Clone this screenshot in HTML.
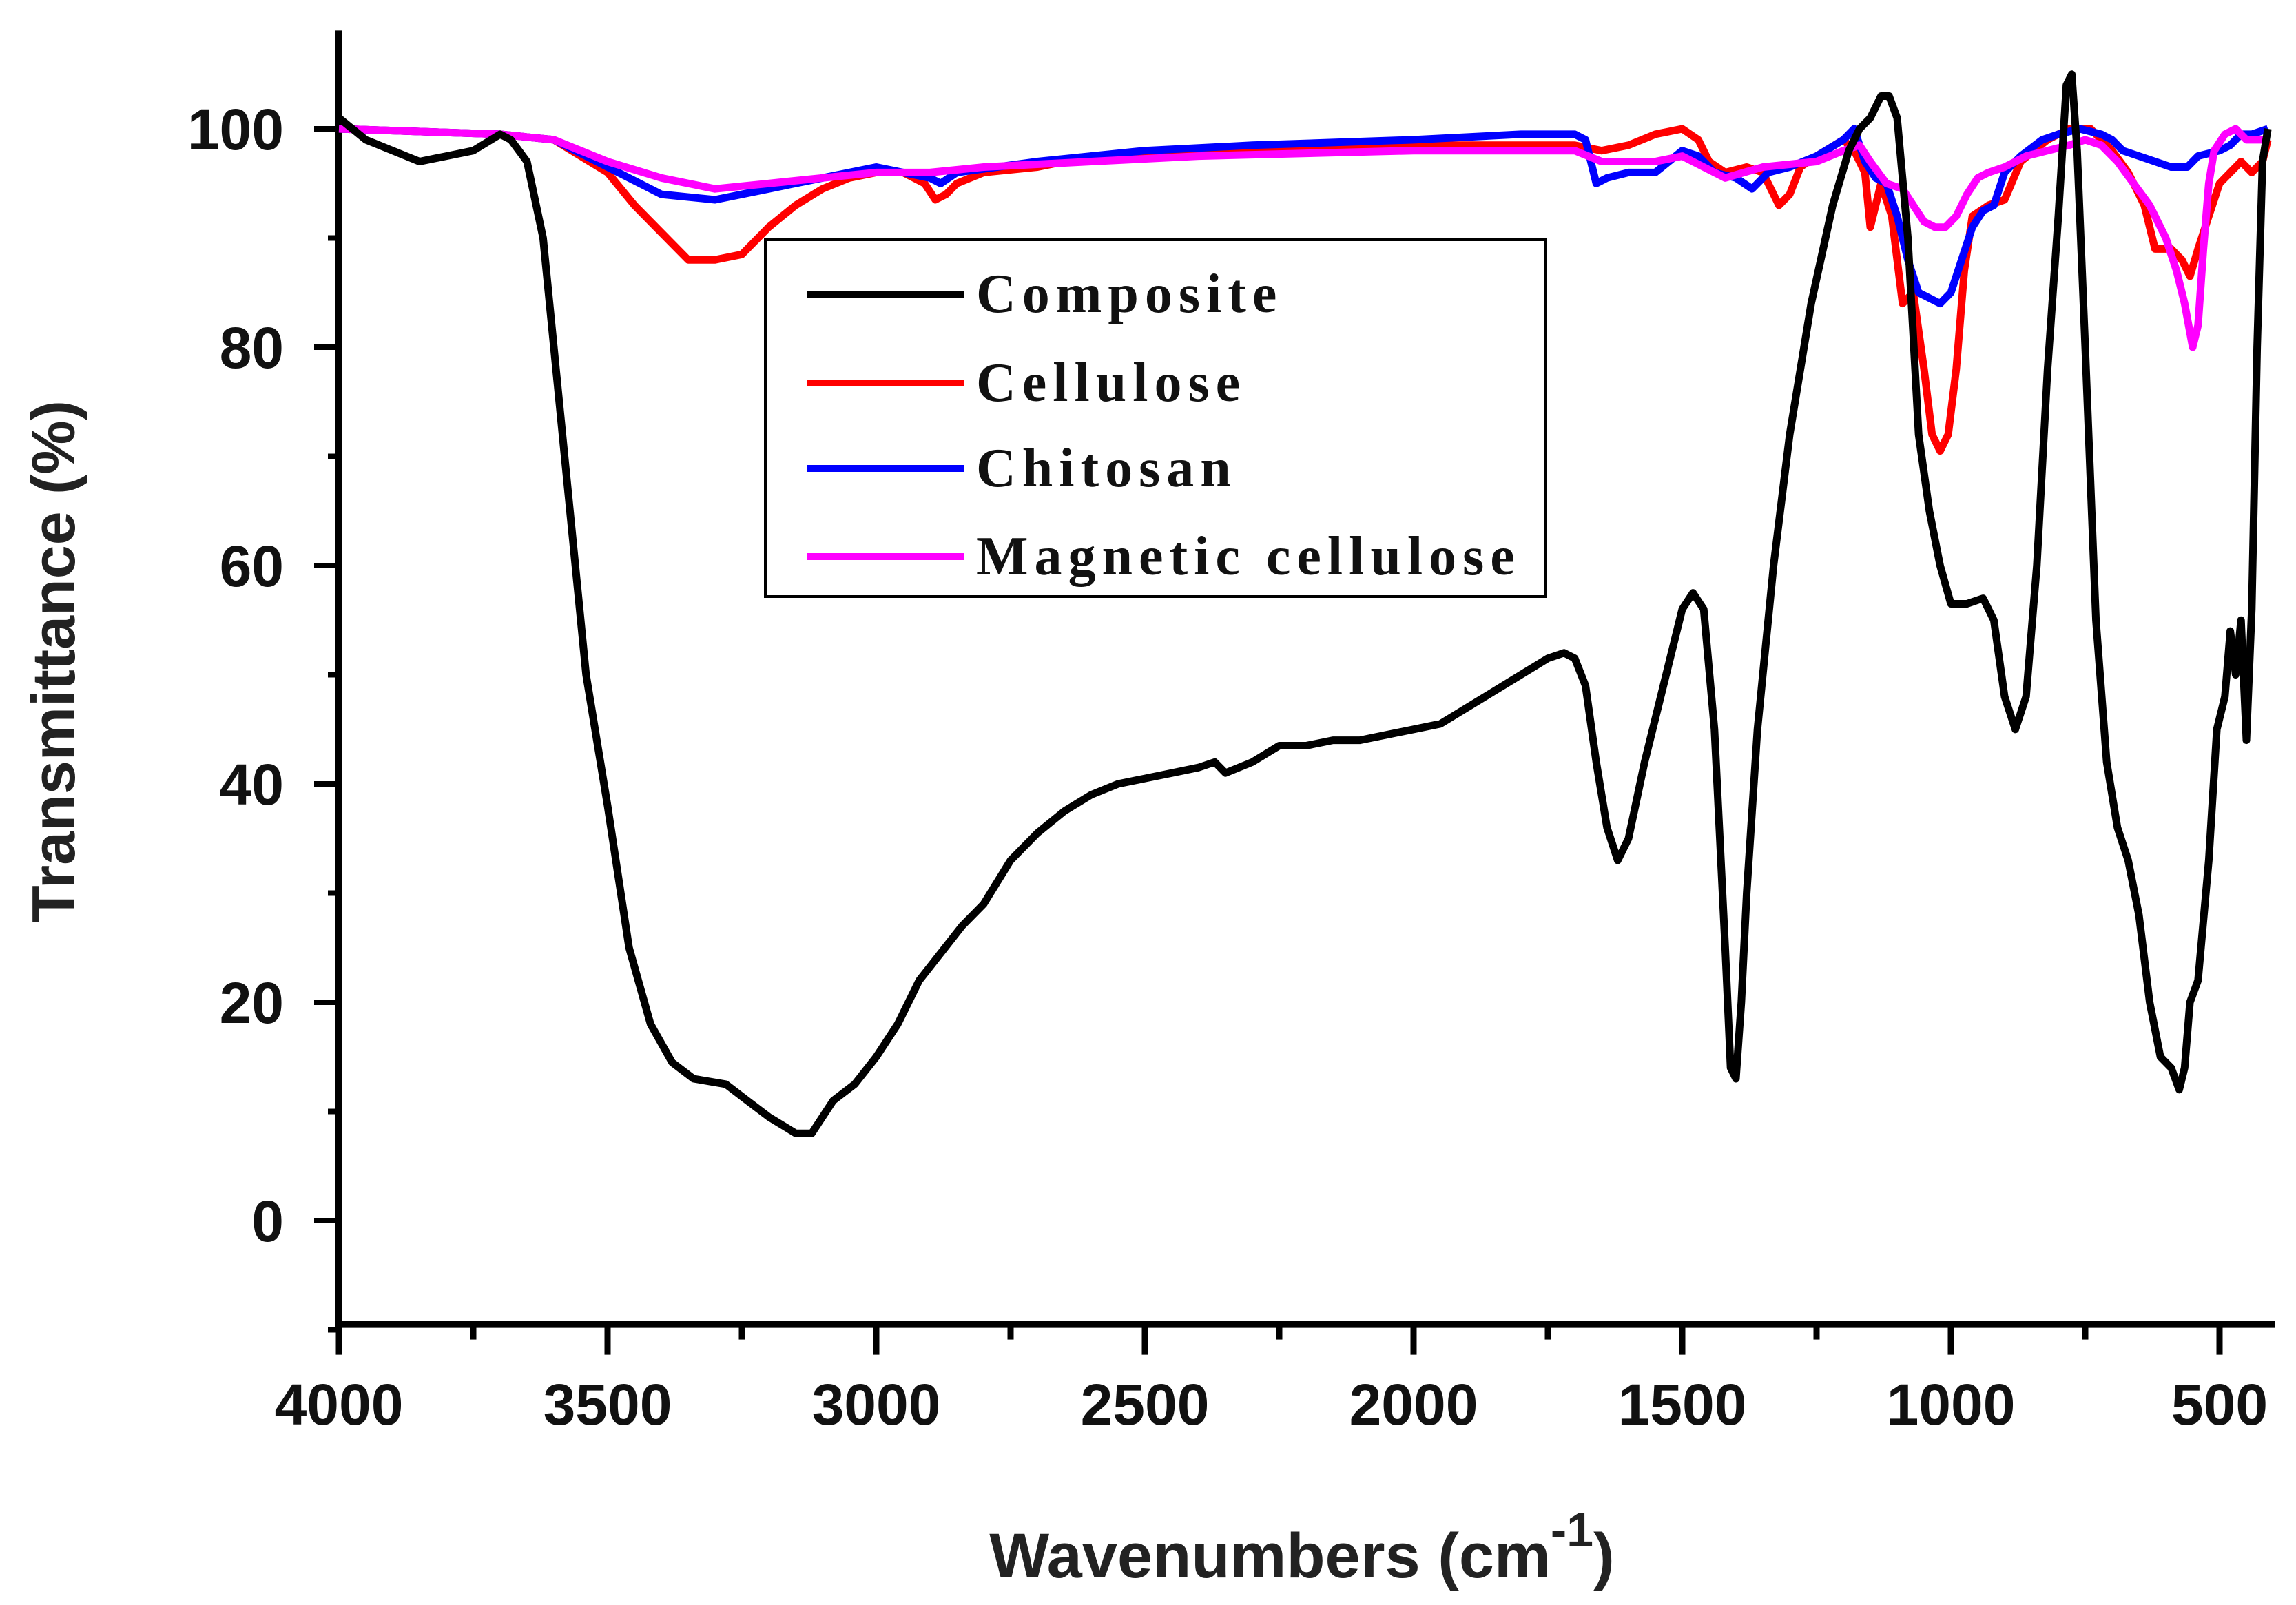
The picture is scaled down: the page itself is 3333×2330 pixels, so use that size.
<!DOCTYPE html>
<html><head><meta charset="utf-8">
<style>
html,body{margin:0;padding:0;background:#fff;}
svg{display:block;}
text{font-family:"Liberation Sans",sans-serif;}
</style></head>
<body>
<svg id="chart" width="3333" height="2330" viewBox="0 0 3333 2330" xmlns="http://www.w3.org/2000/svg">
<g id="axes"></g>
<g id="series"></g>
<g id="legend">
 <rect x="1111" y="348" width="1133" height="518" fill="#fff" stroke="#000" stroke-width="4"/>
</g>
<text x="1890" y="2290" font-size="92" font-weight="bold" text-anchor="middle" fill="#222">Wavenumbers (cm<tspan dy="-45" font-size="70">-1</tspan><tspan dy="45">)</tspan></text>
<text transform="translate(108,960) rotate(-90)" font-size="88" font-weight="bold" text-anchor="middle" fill="#222">Transmittance (%)</text>
</svg>
<script>
const xTicks = [4000,3500,3000,2500,2000,1500,1000,500];
const yTicks = [0,20,40,60,80,100];
const seriesNames = ["Composite","Cellulose","Chitosan","Magnetic cellulose"];
const seriesColors = ["#000000","#ff0000","#0000ff","#ff00ff"];
const compositeW = [4000,3950,3900,3850,3800,3750,3700,3680,3650,3620,3600,3570,3540,3500,3460,3420,3380,3340,3280,3240,3200,3150,3120,3080,3040,3000,2960,2920,2880,2840,2800,2750,2700,2650,2600,2550,2500,2450,2400,2370,2350,2300,2250,2200,2150,2100,2050,2000,1950,1900,1850,1800,1750,1720,1700,1680,1660,1640,1620,1600,1570,1530,1500,1480,1460,1440,1420,1410,1400,1390,1380,1360,1330,1300,1260,1220,1190,1170,1150,1130,1115,1100,1080,1060,1040,1020,1000,970,940,920,900,880,860,840,820,800,785,775,765,750,730,710,690,670,650,630,610,590,575,565,555,540,520,505,490,480,470,460,450,440,430,420,410];
const compositeT = [101,99,98,97,97.5,98,99.5,99,97,90,80,65,50,38,25,18,14.5,13,12.5,11,9.5,8,8,11,12.5,15,18,22,24.5,27,29,33,35.5,37.5,39,40,40.5,41,41.5,42,41,42,43.5,43.5,44,44,44.5,45,45.5,47,48.5,50,51.5,52,51.5,49,42,36,33,35,42,50,56,57.5,56,45,25,14,13,20,30,45,60,72,84,93,98,100,101,103,103,101,90,72,65,60,56.5,56.5,57,55,48,45,48,60,78,92,104,105,98,80,55,42,36,33,28,20,15,14,12,14,20,22,33,45,48,54,50,55,44,56,80,97,100];
const celluloseW = [4000,3700,3600,3500,3450,3400,3350,3300,3250,3200,3150,3100,3050,3000,2950,2910,2890,2870,2850,2800,2700,2600,2400,2000,1700,1650,1600,1550,1500,1470,1450,1420,1380,1350,1320,1300,1280,1250,1200,1180,1160,1150,1130,1110,1090,1070,1050,1035,1020,1005,990,975,960,930,900,870,820,780,740,700,670,640,620,590,570,555,540,520,500,480,460,440,420,410];
const celluloseT = [100,99.5,99,96,93,90.5,88,88,88.5,91,93,94.5,95.5,96,96,95,93.5,94,95,96,96.5,97.5,98,98.5,98.5,98,98.5,99.5,100,99,97,96,96.5,96,93,94,96.5,97.5,99,98,96,91,95,92,84,85,78,72,70.5,72,78,87,92,93,93.5,97,99,100,100,98,96,93,89,89,88,86.5,89,92,95,96,97,96,97,99];
const chitosanW = [4000,3700,3600,3500,3400,3300,3200,3100,3000,2900,2880,2850,2700,2500,2300,2000,1800,1700,1680,1660,1640,1600,1550,1500,1470,1440,1400,1370,1340,1300,1250,1200,1180,1160,1140,1120,1100,1080,1060,1040,1020,1000,980,960,940,920,900,870,830,800,760,720,700,680,650,620,590,560,540,500,480,460,440,410];
const chitosanT = [100,99.5,99,96.5,94,93.5,94.5,95.5,96.5,95.5,95,96,97,98,98.5,99,99.5,99.5,99,95,95.5,96,96,98,97.5,96,95.5,94.5,96,96.5,97.5,99,100,97,95.5,95,92,88,85,84.5,84,85,88,91,92.5,93,96,97.5,99,99.5,100,99.5,99,98,97.5,97,96.5,96.5,97.5,98,98.5,99.5,99.5,100];
const magneticW = [4000,3700,3600,3500,3400,3300,3200,3100,3000,2900,2800,2600,2400,2000,1700,1650,1550,1500,1460,1420,1350,1250,1200,1170,1150,1120,1090,1070,1050,1030,1010,990,970,950,930,900,860,820,780,750,720,690,660,630,600,580,565,550,540,530,520,510,490,470,450,430,410];
const magneticT = [100,99.5,99,97,95.5,94.5,95,95.5,96,96,96.5,97,97.5,98,98,97,97,97.5,96.5,95.5,96.5,97,98,98.5,97,95,94.5,93,91.5,91,91,92,94,95.5,96,96.5,97.5,98,98.5,99,98.5,97,95,93,90,87,84,80,82,89,95,98,99.5,100,99,99,99];

const NS = "http://www.w3.org/2000/svg";
const X0 = 492, PXW = 0.78;
const Y0 = 1772, PXY = 15.85;
const yTopVal = 109, yBotVal = -9.5, xEndVal = 397;
function sx(w){ return X0 + (4000 - w) * PXW; }
function sy(t){ return Y0 - t * PXY; }
function mk(tag, attrs, parent){ const e = document.createElementNS(NS, tag); for (const k in attrs) e.setAttribute(k, attrs[k]); parent.appendChild(e); return e; }

const axes = document.getElementById('axes');
const yAxis = mk('line', {x1:sx(4000), y1:sy(yTopVal), x2:sx(4000), y2:sy(yBotVal)+5, stroke:'#000','stroke-width':10}, axes);


const xAxis = mk('line', {x1:sx(4000)-5, y1:sy(yBotVal), x2:sx(xEndVal), y2:sy(yBotVal), stroke:'#000','stroke-width':10}, axes);



for (let w = 4000; w >= 500; w -= 250) {
  const major = (w % 500 === 0);
  const t = mk('line', {x1:sx(w), y1:sy(yBotVal), x2:sx(w), y2:sy(yBotVal) + (major ? 44 : 22), stroke:'#000','stroke-width':9}, axes);
  
  
}
xTicks.forEach(w => {
  const l = mk('text', {x:sx(w), y:2068, 'font-size':84, 'font-weight':'bold', 'text-anchor':'middle', fill:'#111'}, axes);
  l.textContent = String(w);
  
  
});
for (let v = -10; v <= 100; v += 10) {
  const major = (v % 20 === 0);
  const t = mk('line', {x1:sx(4000), y1:sy(v), x2:sx(4000) - (major ? 36 : 16), y2:sy(v), stroke:'#000','stroke-width':8}, axes);
  
  
}
yTicks.forEach(v => {
  const l = mk('text', {x:412, y:sy(v) + 30, 'font-size':84, 'font-weight':'bold', 'text-anchor':'end', fill:'#111'}, axes);
  l.textContent = String(v);
  
  
});

const seriesG = document.getElementById('series');
const allW = [compositeW, celluloseW, chitosanW, magneticW];
const allT = [compositeT, celluloseT, chitosanT, magneticT];
const slugs = ['composite-line','cellulose-line','chitosan-line','magnetic-cellulose-line'];
const order = [1,2,3,0];
order.forEach(i => {
  const d = allW[i].map((w, k) => (k ? 'L' : 'M') + sx(w).toFixed(1) + ' ' + sy(allT[i][k]).toFixed(1)).join(' ');
  const p = mk('path', {d:d, fill:'none', stroke:seriesColors[i], 'stroke-width':11, 'stroke-linejoin':'round'}, seriesG);
  
  
});

const legend = document.getElementById('legend');
const rowsY = [427, 556, 680, 808];
seriesNames.forEach((n, i) => {
  const ln = mk('line', {x1:1171, y1:rowsY[i], x2:1400, y2:rowsY[i], stroke:seriesColors[i], 'stroke-width':10}, legend);
  
  
  const tx = mk('text', {x:1417, y:rowsY[i] + 26, 'font-size':80, 'font-weight':'bold', 'letter-spacing':9, fill:'#111', style:'font-family:"Liberation Serif",serif'}, legend);
  tx.textContent = n;
  
  
});
</script>
</body></html>
